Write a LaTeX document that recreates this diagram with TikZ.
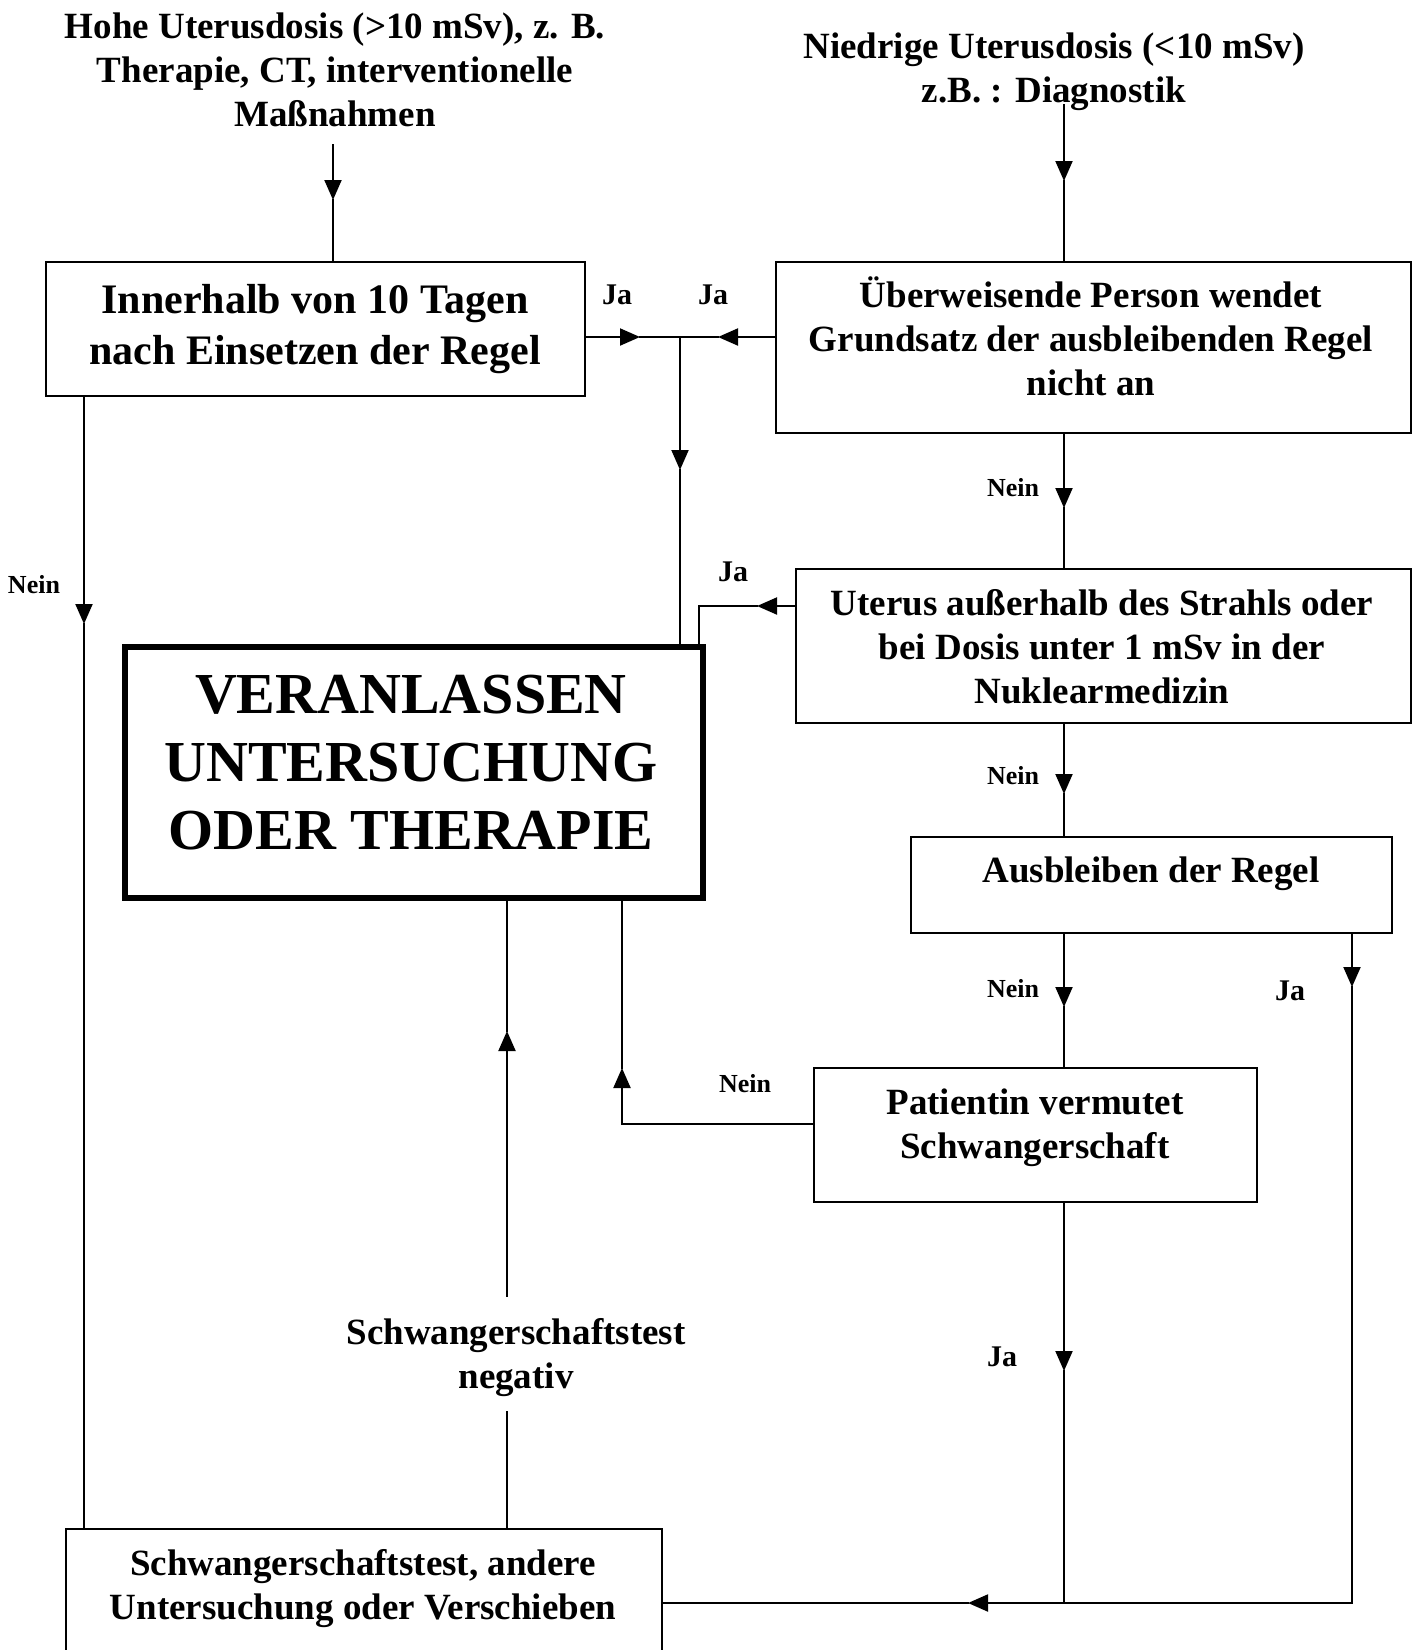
\documentclass[tikz,border=0pt]{standalone}
\usepackage{fontspec}
\setmainfont{Liberation Serif}
\usetikzlibrary{arrows.meta}
\begin{document}
\begin{tikzpicture}[x=1pt,y=-1pt,
  box/.style={draw, line width=2pt, anchor=north west, inner sep=0pt},
  bigbox/.style={box, line width=6pt},
  txt/.style={align=center, inner sep=0pt, font=\fontsize{37}{44}\selectfont\bfseries},
  btxt/.style={align=center, inner sep=0pt, font=\fontsize{42}{51}\selectfont\bfseries},
  hugetxt/.style={align=center, inner sep=0pt, font=\fontsize{58}{68}\selectfont\bfseries},
  nein/.style={inner sep=0pt, font=\fontsize{26}{30}\selectfont\bfseries},
  ja/.style={inner sep=0pt, font=\fontsize{30}{34}\selectfont\bfseries},
  ln/.style={line width=2pt, line cap=rect},
  arr/.style={ln, -{Triangle[length=20pt,width=17pt]}}
]
\clip (0,0) rectangle (1414,1650);
\fill[white] (0,0) rectangle (1414,1650);

% boxes
\node[box, minimum width=539pt, minimum height=134pt] (B1) at (45,261) {};
\node[box, minimum width=635pt, minimum height=171pt] (B2) at (775,261) {};
\node[box, minimum width=615pt, minimum height=154pt] (B3) at (795,568) {};
\node[box, minimum width=481pt, minimum height=96pt] (B4) at (910,836) {};
\node[box, minimum width=443pt, minimum height=134pt] (B5) at (813,1067) {};
\node[box, minimum width=596pt, minimum height=140pt] (B6) at (65,1528) {};
\node[bigbox, minimum width=578pt, minimum height=251pt] (BB) at (122,644) {};

% texts
\node[txt] (T1) at (335,70) {Hohe Uterusdosis (>10 mSv), z. B.\\Therapie, CT, interventionelle\\Maßnahmen};
\node[txt] (T2) at (1054,72) {Niedrige Uterusdosis (<10 mSv)\\z.B. : Diagnostik};
\node[btxt] (t1) at (315,329) {Innerhalb von 10 Tagen\\nach Einsetzen der Regel};
\node[txt] (t2) at (1091,336) {Überweisende Person wendet\\Grundsatz der ausbleibenden Regel\\nicht an};
\node[txt] (t3) at (1102,647) {Uterus außerhalb des Strahls oder\\bei Dosis unter 1 mSv in der\\Nuklearmedizin};
\node[txt] (t4) at (1151,874) {Ausbleiben der Regel};
\node[txt] (t5) at (1035,1128) {Patientin vermutet\\Schwangerschaft};
\node[txt] (t6) at (363,1589) {Schwangerschaftstest, andere\\Untersuchung oder Verschieben};
\node[hugetxt] (tb) at (411,763) {VERANLASSEN\\UNTERSUCHUNG\\ODER THERAPIE};
\node[txt] (tn) at (516,1358) {Schwangerschaftstest\\negativ};

% labels
\node[ja] (ja1) at (617,295) {Ja};
\node[ja] (ja2) at (713,295) {Ja};
\node[ja] (ja3) at (733,572) {Ja};
\node[ja] (ja4) at (1290,991) {Ja};
\node[ja] (ja5) at (1002,1357) {Ja};
\node[nein] (ne1) at (34,585) {Nein};
\node[nein] (ne2) at (1013,488) {Nein};
\node[nein] (ne3) at (1013,776) {Nein};
\node[nein] (ne4) at (1013,989) {Nein};
\node[nein] (ne5) at (745,1084) {Nein};

% coordinates
\coordinate (tl) at (333,145);
\coordinate (tlA) at (333,200);
\coordinate (tr) at (1064,105);
\coordinate (trA) at (1064,181);
\coordinate (J) at (680,337);
\coordinate (jA1) at (640,337);
\coordinate (jA2) at (718,337);
\coordinate (jA3) at (680,470);
\coordinate (n1A) at (1064,508);
\coordinate (cU) at (699,606);
\coordinate (uA) at (757,606);
\coordinate (n2A) at (1064,794);
\coordinate (n3A) at (1064,1007);
\coordinate (jaA) at (1352,987);
\coordinate (rc) at (1352,1603);
\coordinate (paA) at (1064,1371);
\coordinate (pc) at (1064,1603);
\coordinate (bA) at (968,1603);
\coordinate (pc2) at (622,1124);
\coordinate (plA) at (622,1068);
\coordinate (lA) at (84,624);
\coordinate (mTop) at (507,1296);
\coordinate (mA) at (507,1031);
\coordinate (mBot) at (507,1412);

% connectors
\draw[arr] (tl) -- (tlA); \draw[ln] (tlA) -- (tlA |- B1.north);
\draw[arr] (tr) -- (trA); \draw[ln] (trA) -- (trA |- B2.north);
\draw[arr] (B1.east |- J) -- (jA1); \draw[ln] (jA1) -- (J);
\draw[arr] (B2.west |- J) -- (jA2); \draw[ln] (jA2) -- (J);
\draw[arr] (J) -- (jA3); \draw[ln] (jA3) -- (jA3 |- BB.north);
\draw[arr] (B2.south -| tr) -- (n1A); \draw[ln] (n1A) -- (n1A |- B3.north);
\draw[arr] (B3.west |- cU) -- (uA); \draw[ln] (uA) -- (cU) -- (cU |- BB.north);
\draw[arr] (B3.south -| tr) -- (n2A); \draw[ln] (n2A) -- (n2A |- B4.north);
\draw[arr] (B4.south -| tr) -- (n3A); \draw[ln] (n3A) -- (n3A |- B5.north);
\draw[arr] (B4.south -| jaA) -- (jaA); \draw[ln] (jaA) -- (rc);
\draw[arr] (rc) -- (bA); \draw[ln] (bA) -- (bA -| B6.east);
\draw[arr] (B5.south -| tr) -- (paA); \draw[ln] (paA) -- (pc);
\draw[ln] (B5.west |- pc2) -- (pc2); \draw[arr] (pc2) -- (plA); \draw[ln] (plA) -- (plA |- BB.south);
\draw[arr] (B1.south -| lA) -- (lA); \draw[ln] (lA) -- (lA |- B6.north);
\draw[ln] (mBot |- B6.north) -- (mBot);
\draw[arr] (mTop) -- (mA); \draw[ln] (mA) -- (mA |- BB.south);
\end{tikzpicture}
\end{document}
